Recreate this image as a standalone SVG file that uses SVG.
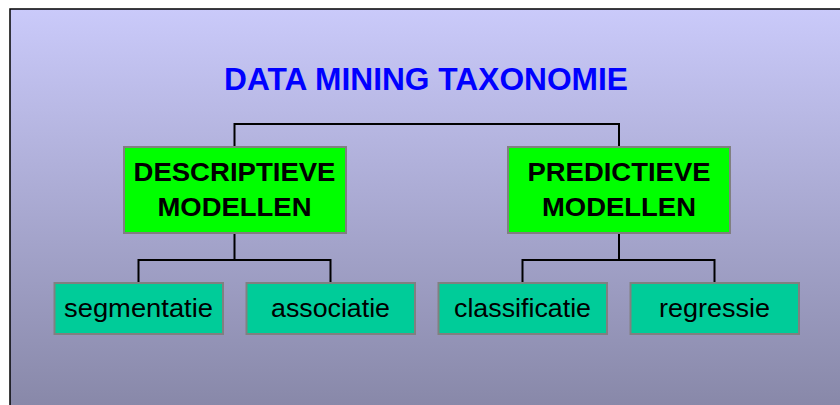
<svg xmlns="http://www.w3.org/2000/svg" width="840" height="405" viewBox="0 0 840 405">
  <defs>
    <linearGradient id="bg" x1="0" y1="0" x2="0" y2="1">
      <stop offset="0" stop-color="#cacafa"/>
      <stop offset="1" stop-color="#8686a6"/>
    </linearGradient>
    <style>
      .frame { fill: url(#bg); stroke: #000; stroke-width: 1.5; }
      .parent rect { fill: #00ff00; stroke: #808080; stroke-width: 2; }
      .child rect { fill: #00cc99; stroke: #808080; stroke-width: 2; }
      .parent text { font-family: "Liberation Sans", Arial, sans-serif; font-weight: bold; font-size: 26.5px; fill: #000; text-anchor: middle; }
      .child text { font-family: "Liberation Sans", Arial, sans-serif; font-size: 26.5px; fill: #000; text-anchor: middle; }
      .title { font-family: "Liberation Sans", Arial, sans-serif; font-weight: bold; font-size: 31px; fill: #0000ff; text-anchor: middle; }
      .conn { fill: none; stroke: #000; stroke-width: 2; }
    </style>
  </defs>
  <rect x="0" y="0" width="840" height="405" fill="#ffffff"/>
  <rect class="frame" x="10" y="9" width="840" height="410"/>
  <g id="title">
    <text class="title" x="426" y="90" textLength="404" lengthAdjust="spacingAndGlyphs">DATA MINING TAXONOMIE</text>
  </g>
  <g id="connectors">
    <path class="conn" d="M234.5,147 V124 H619 V147"/>
    <path class="conn" d="M234.5,233 V260 M138.5,283 V260 H330.5 V283"/>
    <path class="conn" d="M619,233 V260 M522.5,283 V260 H714.5 V283"/>
  </g>
  <g id="descriptieve" class="parent">
    <rect x="124" y="147" width="222" height="86"/>
    <text x="234.5" y="181" textLength="202" lengthAdjust="spacingAndGlyphs">DESCRIPTIEVE</text>
    <text x="234.5" y="215.5" textLength="154" lengthAdjust="spacingAndGlyphs">MODELLEN</text>
  </g>
  <g id="predictieve" class="parent">
    <rect x="508" y="147" width="222" height="86"/>
    <text x="619" y="181" textLength="183" lengthAdjust="spacingAndGlyphs">PREDICTIEVE</text>
    <text x="619" y="215.5" textLength="154" lengthAdjust="spacingAndGlyphs">MODELLEN</text>
  </g>
  <g id="segmentatie" class="child">
    <rect x="54.5" y="283" width="168.5" height="51"/>
    <text x="138.5" y="317" textLength="149" lengthAdjust="spacingAndGlyphs">segmentatie</text>
  </g>
  <g id="associatie" class="child">
    <rect x="246.5" y="283" width="168.5" height="51"/>
    <text x="330.5" y="317" textLength="119" lengthAdjust="spacingAndGlyphs">associatie</text>
  </g>
  <g id="classificatie" class="child">
    <rect x="438.5" y="283" width="168.5" height="51"/>
    <text x="522.5" y="317" textLength="137" lengthAdjust="spacingAndGlyphs">classificatie</text>
  </g>
  <g id="regressie" class="child">
    <rect x="630.5" y="283" width="168.5" height="51"/>
    <text x="714.5" y="317" textLength="111" lengthAdjust="spacingAndGlyphs">regressie</text>
  </g>
</svg>
